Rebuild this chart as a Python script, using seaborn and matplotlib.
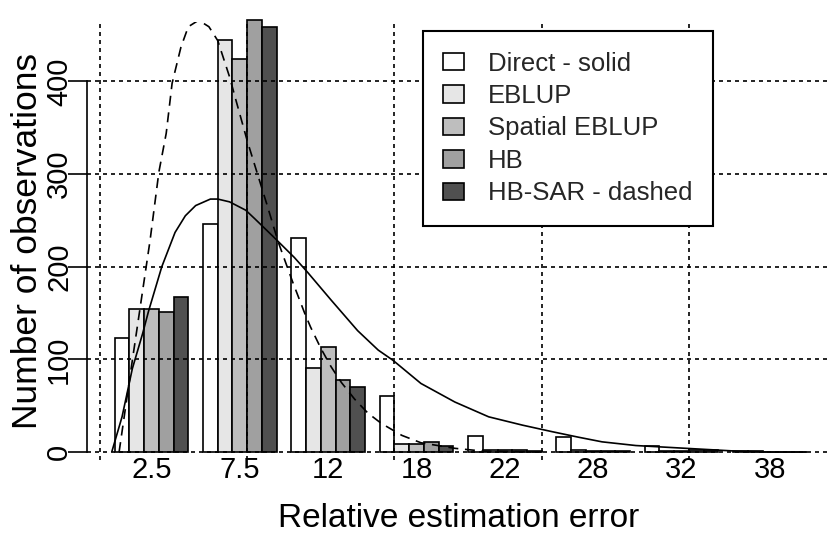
import numpy as np
import pandas as pd
import matplotlib
matplotlib.use("Agg")
import matplotlib.pyplot as plt
from matplotlib.patches import Patch
import seaborn as sns

bins = ["2.5", "7.5", "12", "18", "22", "28", "32", "38"]
methods = ["Direct - solid", "EBLUP", "Spatial EBLUP", "HB", "HB-SAR - dashed"]
colors = ["#ffffff", "#e6e6e6", "#bebebe", "#a0a0a0", "#505050"]

# counts per bin
direct = [123, 246, 231, 61, 17, 16, 6, 1]
eblup = [154, 445, 91, 9, 2, 2, 1, 1]
spatial = [154, 424, 113, 9, 2, 1, 1, 0]
hb = [151, 466, 78, 11, 2, 1, 2, 0]
hb_sar = [167, 459, 70, 6, 1, 1, 2, 0]

# density curves, x in bar units (bar width = 1, groups start at 1, 7, 13, ...)
solid_x = [0.8, 1.5, 2.2, 2.9, 3.3, 4.2, 5.1, 5.8, 6.5, 7.5, 8.0, 8.8, 9.9, 10.5, 11.8, 13.2,
           14.1, 15.7, 17.5, 18.9, 19.9, 21.8, 24.1, 26.4, 28.7, 30.7, 32.5, 34.1, 36.4,
           39.8, 43.2, 45.5, 48.0]
solid_y = [0, 38, 90, 128, 152, 200, 237, 255, 266, 273, 273, 270, 261, 252, 232, 210,
           194, 164, 131, 110, 99, 74, 54, 38, 29, 22, 16, 11, 7,
           4, 1, 0, 0]
dashed_x = [1.3, 2.2, 3.4, 4.0, 4.5, 4.9, 5.5, 6.0, 6.7, 7.4, 8.0, 8.8, 9.3, 10.0, 10.7,
            11.4, 12.1, 12.6, 13.1, 13.9, 14.3, 15.0, 15.7, 16.4, 17.3, 18.2, 19.1, 20.5,
            21.8, 24.1, 26.0, 30.0]
dashed_y = [0, 99, 228, 302, 344, 398, 437, 459, 466, 459, 444, 405, 376, 336, 300,
            264, 227, 205, 183, 150, 135, 112, 92, 75, 57, 42, 31, 18,
            10, 4, 1, 0]

grid_units = [0, 10, 20, 30, 40]
yticks = [0, 100, 200, 300, 400]


def to_cat(u):
    # bar units -> seaborn categorical coordinate
    return (np.asarray(u, dtype=float) - 3.5) / 6


rows = []
for name, vals in zip(methods, [direct, eblup, spatial, hb, hb_sar]):
    for b, v in zip(bins, vals):
        rows.append({"bin": b, "method": name, "count": v})
df = pd.DataFrame(rows)

sns.set_theme(style="white")
plt.rcParams["font.family"] = ["Liberation Sans", "DejaVu Sans"]

fig = plt.figure(figsize=(8.28, 5.36), dpi=100)
ax = fig.add_axes([87 / 828, 76 / 536, 744 / 828, 438 / 536])

sns.barplot(data=df, x="bin", y="count", hue="method", order=bins, hue_order=methods,
            palette=colors, saturation=1, edgecolor="black", linewidth=1.2,
            width=5 / 6, gap=0, legend=False, ax=ax)
for p in ax.patches:
    p.set_clip_on(False)

ax.plot(to_cat(solid_x), solid_y, color="black", lw=1.2, solid_capstyle="butt")
ax.plot(to_cat(dashed_x), dashed_y, color="black", lw=1.2, linestyle=(0, (6, 4)))

ax.set_xlim(to_cat(-0.88), to_cat(49.65))
ax.set_ylim(-8.6, 464.1)

# dotted grid over the bars
ax.set_axisbelow(False)
ax.set_xticks(to_cat(grid_units), minor=True)
ax.set_yticks(yticks)
ax.grid(which="minor", axis="x", color="black", lw=1.2, linestyle=(0, (2.4, 2.4)))
ax.grid(which="major", axis="y", color="black", lw=1.2, linestyle=(0, (2.4, 2.4)))
ax.grid(which="major", axis="x", visible=False)

for s in ["top", "right", "bottom"]:
    ax.spines[s].set_visible(False)
ax.spines["left"].set_bounds(0, 400)
ax.spines["left"].set_color("black")
ax.spines["left"].set_linewidth(1.2)

ax.tick_params(axis="x", which="both", length=0, labelsize=21, pad=-3, colors="black")
ax.tick_params(axis="y", length=14, width=1.2, labelsize=21, pad=-4, colors="black",
               left=True)
plt.setp(ax.get_yticklabels(), rotation=90, va="center")

ax.set_xlabel("Relative estimation error", fontsize=24, color="black", labelpad=14)
ax.set_ylabel("Number of observations", fontsize=25.5, color="black", labelpad=1)

handles = [Patch(facecolor=c, edgecolor="black", linewidth=1.2) for c in colors]
leg = ax.legend(handles, methods, loc="upper left", bbox_to_anchor=(0.451, 0.9795),
                borderaxespad=0, fontsize=18.5, frameon=True, fancybox=False,
                framealpha=1, edgecolor="black", handlelength=0.8, handleheight=0.65,
                handletextpad=0.95, labelspacing=0.33, borderpad=0.8)
leg.get_frame().set_linewidth(1.5)

fig.savefig("out.png", dpi=100)
